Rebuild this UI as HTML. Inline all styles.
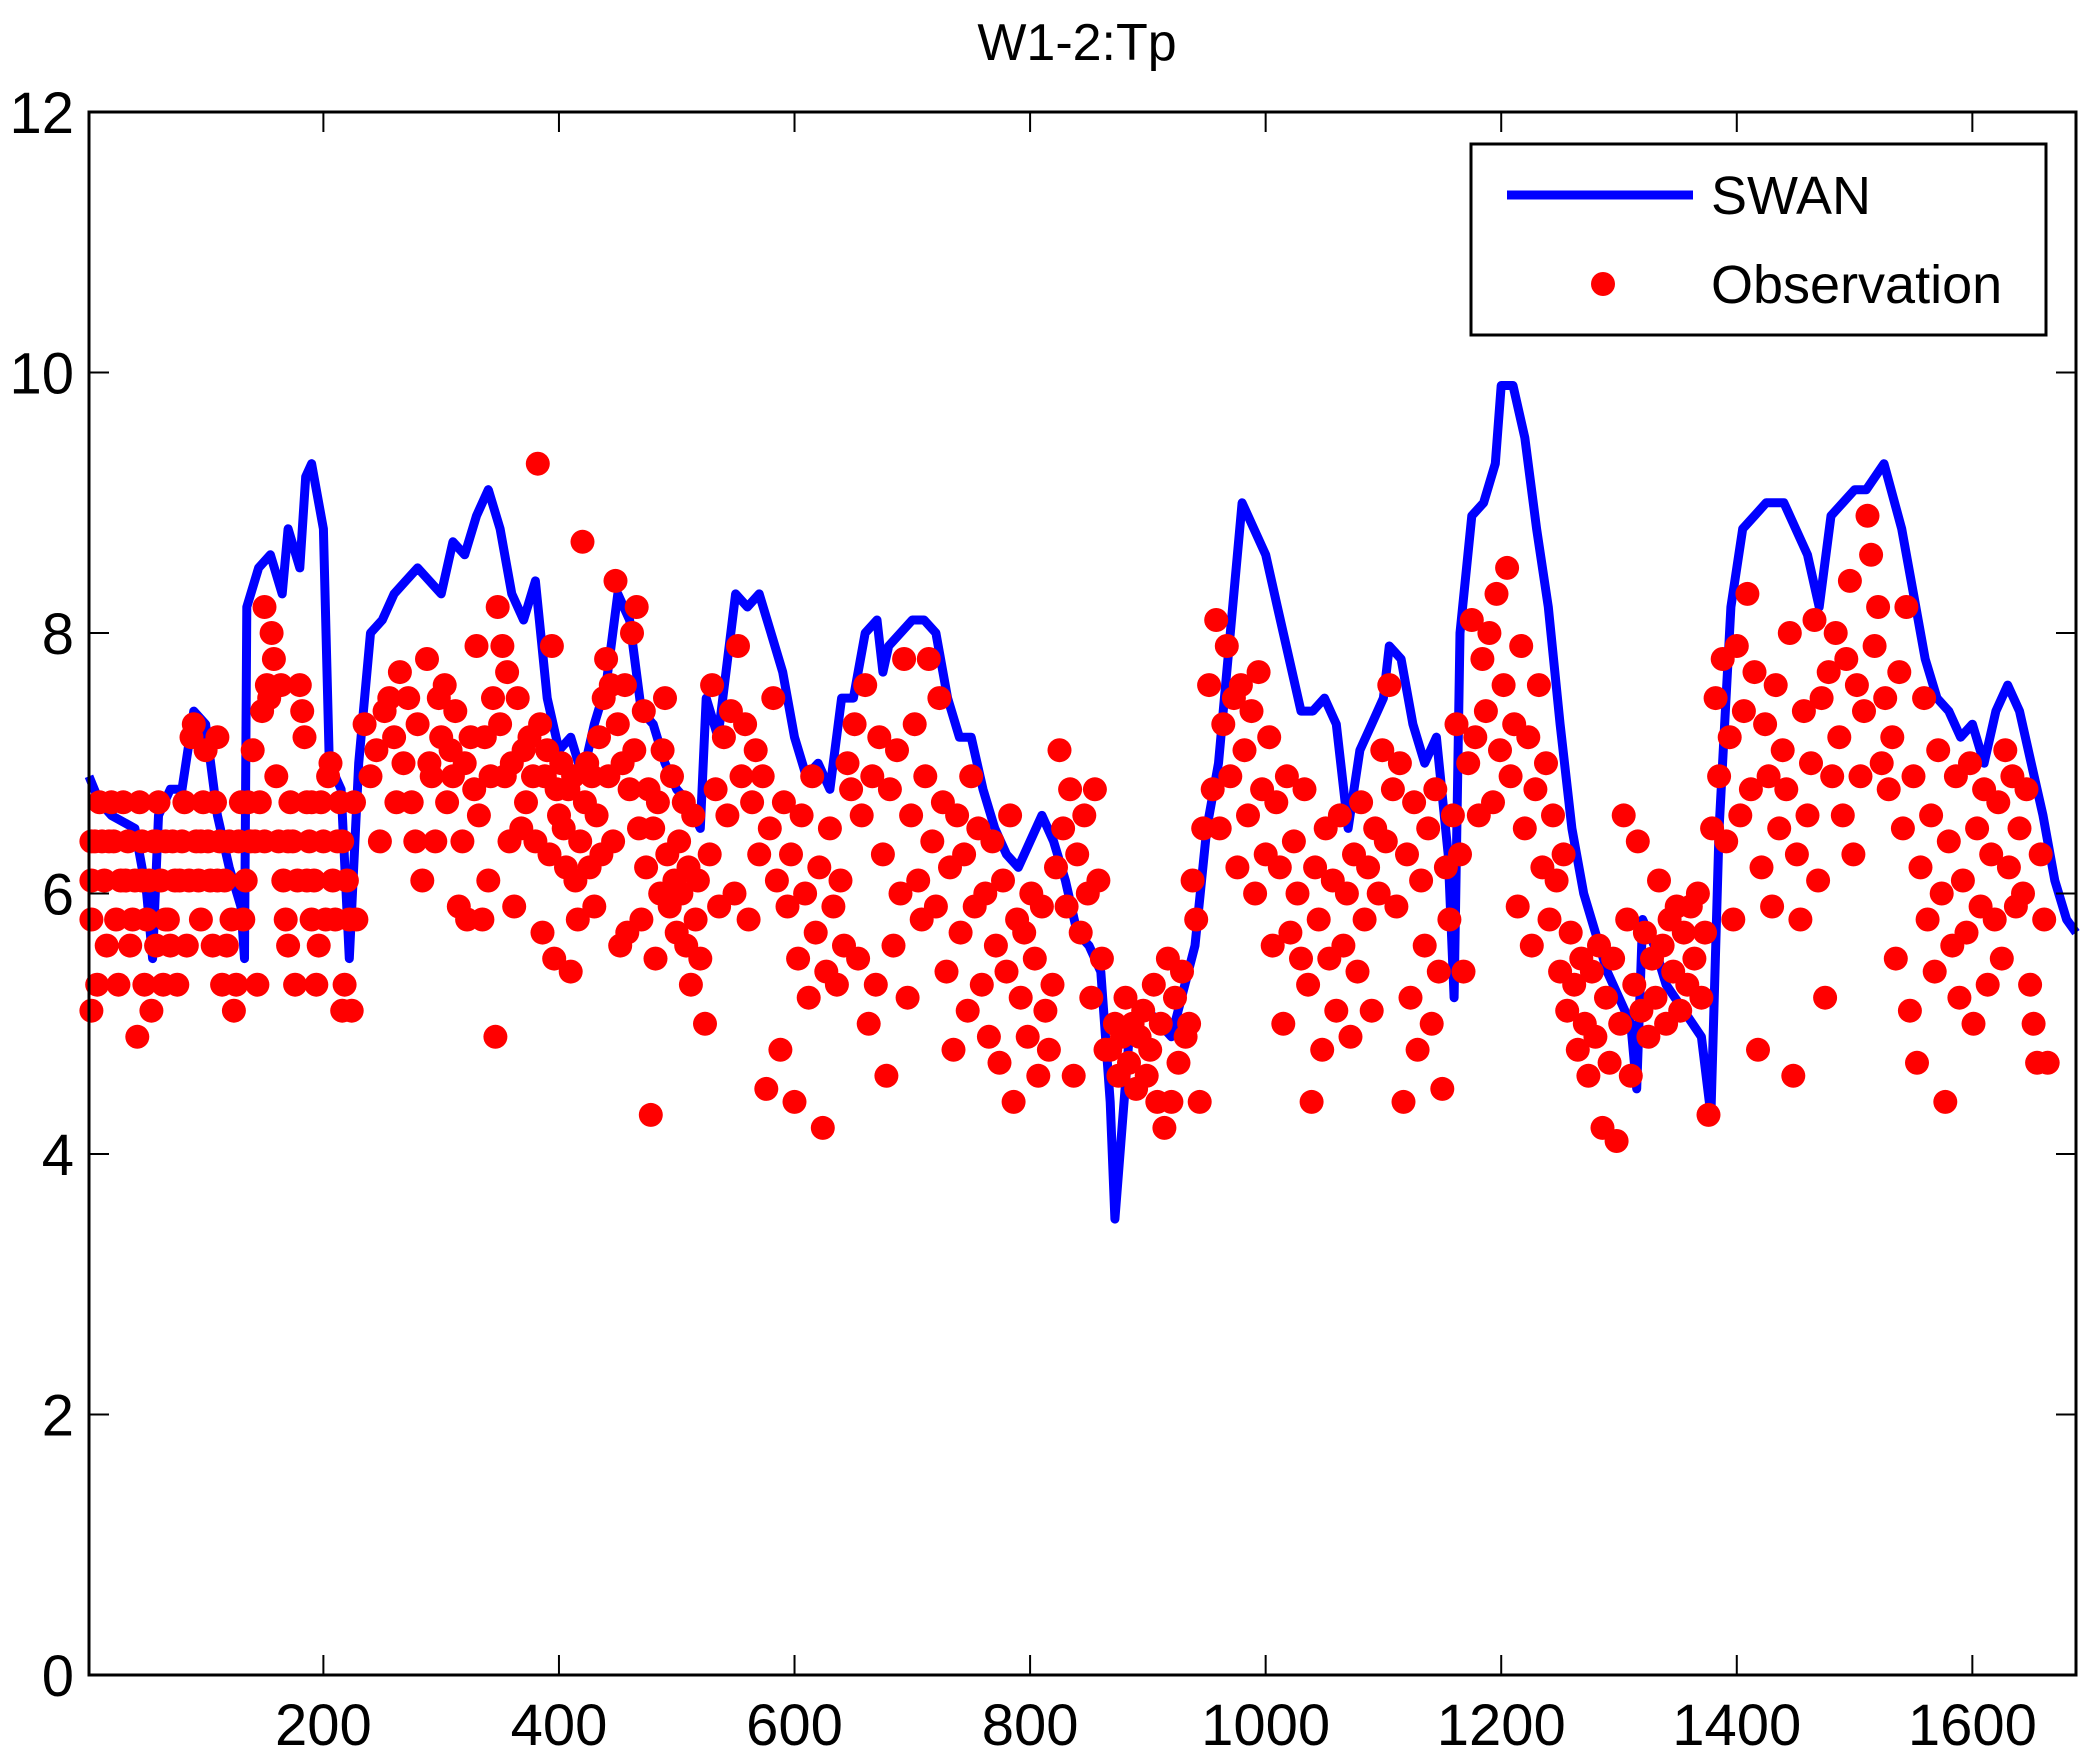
<!DOCTYPE html>
<html><head><meta charset="utf-8"><style>
html,body{margin:0;padding:0;background:#fff;}
svg{display:block;font-family:"Liberation Sans",Arial,sans-serif;}
</style></head><body>
<svg id="chart" width="2091" height="1762" viewBox="0 0 2091 1762" xmlns="http://www.w3.org/2000/svg">
<rect width="2091" height="1762" fill="#fff"/>
<text x="1077" y="60" font-size="52" text-anchor="middle">W1-2:Tp</text>
<g id="plot"></g>
<g id="axes"></g>
<g>
<rect x="1471" y="144" width="575" height="191" fill="#fff" stroke="#000" stroke-width="3"/>
<line x1="1507" y1="195" x2="1693" y2="195" stroke="#0000ff" stroke-width="9"/>
<text x="1711" y="214" font-size="54">SWAN</text>
<circle cx="1603" cy="284" r="12" fill="#ff0000"/>
<text x="1711" y="303" font-size="54">Observation</text>
</g>
</svg>
<script>
const swanX=[1,10,20,40,50,55,60,70,80,90,100,110,120,130,133,135,145,155,165,170,180,185,190,200,205,215,222,230,240,250,260,270,280,290,300,310,320,330,340,350,360,370,380,390,400,410,420,430,440,450,460,470,480,490,500,510,520,525,535,550,560,570,580,590,600,610,620,630,640,650,660,670,675,680,690,700,710,720,730,740,750,760,770,780,790,800,810,820,830,840,850,860,868,872,878,885,900,920,940,950,960,970,980,990,1000,1010,1020,1030,1040,1050,1060,1070,1080,1090,1100,1105,1115,1125,1135,1145,1155,1160,1165,1175,1185,1195,1200,1210,1220,1230,1240,1250,1260,1270,1280,1290,1300,1310,1315,1320,1330,1340,1355,1370,1378,1385,1395,1405,1415,1425,1440,1450,1460,1470,1480,1490,1500,1510,1525,1540,1550,1560,1570,1580,1590,1600,1610,1620,1630,1640,1650,1660,1670,1680,1688];
const swanY=[6.9,6.7,6.6,6.5,6.0,5.5,6.6,6.8,6.8,7.4,7.3,6.6,6.2,5.9,5.5,8.2,8.5,8.6,8.3,8.8,8.5,9.2,9.3,8.8,7.0,6.8,5.5,7.0,8.0,8.1,8.3,8.4,8.5,8.4,8.3,8.7,8.6,8.9,9.1,8.8,8.3,8.1,8.4,7.5,7.1,7.2,6.9,7.3,7.6,8.3,8.1,7.4,7.3,7.0,6.8,6.7,6.5,7.5,7.2,8.3,8.2,8.3,8.0,7.7,7.2,6.9,7.0,6.8,7.5,7.5,8.0,8.1,7.7,7.9,8.0,8.1,8.1,8.0,7.5,7.2,7.2,6.8,6.5,6.3,6.2,6.4,6.6,6.4,6.1,5.7,5.6,5.4,4.4,3.5,4.2,5.0,5.1,4.9,5.6,6.5,7.0,8.0,9.0,8.8,8.6,8.2,7.8,7.4,7.4,7.5,7.3,6.5,7.1,7.3,7.5,7.9,7.8,7.3,7.0,7.2,6.3,5.2,8.0,8.9,9.0,9.3,9.9,9.9,9.5,8.8,8.2,7.3,6.5,6.0,5.7,5.4,5.2,5.0,4.5,5.8,5.6,5.3,5.1,4.9,4.3,6.5,8.2,8.8,8.9,9.0,9.0,8.8,8.6,8.2,8.9,9.0,9.1,9.1,9.3,8.8,8.3,7.8,7.5,7.4,7.2,7.3,7.0,7.4,7.6,7.4,7.0,6.6,6.1,5.8,5.7];
const obsPoints=[
[3,6.4],[3,6.1],[3,5.8],[3,5.1],[8,5.3],[10,6.7],[12,6.4],[14,6.1],[16,5.6],[20,6.7],[22,6.4],[24,5.8],[26,5.3],[28,6.1],[30,6.7],[34,6.4],[36,5.6],[38,5.8],[40,6.1],[42,4.9],[44,6.7],[46,6.4],[48,5.3],[50,5.8],[52,6.1],[54,5.1],[56,6.4],[58,5.6],[60,6.7],[62,6.1],[64,5.3],[66,6.4],[68,5.8],[70,5.6],[72,6.4],[74,6.1],[76,5.3],[80,6.4],[82,6.7],[84,5.6],[86,6.1],[88,7.2],[90,7.3],[92,6.4],[94,6.1],[96,5.8],[98,6.7],[100,7.1],[102,6.4],[104,6.1],[106,5.6],[108,6.7],[110,7.2],[112,6.4],[114,5.3],[116,6.1],[118,5.6],[120,6.4],[122,5.8],[124,5.1],[126,5.3],[128,6.4],[130,6.7],[132,5.8],[134,6.1],[136,6.7],[140,7.1],[142,6.4],[144,5.3],[146,6.7],[148,7.4],[150,8.2],[152,7.6],[154,7.5],[156,8.0],[158,7.8],[160,6.9],[162,6.4],[164,7.6],[166,6.1],[168,5.8],[170,5.6],[172,6.7],[174,6.4],[176,5.3],[178,6.1],[180,7.6],[182,7.4],[184,7.2],[186,6.7],[188,6.4],[190,5.8],[192,6.1],[194,5.3],[196,5.6],[198,6.7],[200,6.4],[202,5.8],[204,6.9],[206,7.0],[208,6.1],[210,5.8],[212,6.4],[214,6.7],[216,5.1],[218,5.3],[220,6.1],[222,5.8],[224,5.1],[226,6.7],[228,5.8],
[6,6.4],[18,6.4],[32,6.1],[46,6.1],[78,6.1],[96,6.4],[138,6.4],[170,6.4],[186,6.1],[58,6.4],[110,6.1],[190,6.7],[216,6.4],[66,5.8],[150,6.4],
[235,7.3],[240,6.9],[245,7.1],[248,6.4],[252,7.4],[256,7.5],[260,7.2],[262,6.7],[265,7.7],[268,7.0],[272,7.5],[275,6.7],[278,6.4],[280,7.3],[284,6.1],[288,7.8],[290,7.0],[292,6.9],[295,6.4],[298,7.5],[300,7.2],[303,7.6],[305,6.7],[308,7.1],[310,6.9],[312,7.4],[315,5.9],[318,6.4],[320,7.0],[322,5.8],[325,7.2],[328,6.8],[330,7.9],[332,6.6],[335,5.8],[337,7.2],[340,6.1],[342,6.9],[344,7.5],[346,4.9],[348,8.2],[350,7.3],[352,7.9],[354,6.9],[356,7.7],[358,6.4],[360,7.0],[362,5.9],[365,7.5],[368,6.5],[370,7.1],[372,6.7],[375,7.2],[378,6.9],[380,6.4],[382,9.3],[384,7.3],[386,5.7],[388,6.9],[390,7.1],[392,6.3],[394,7.9],[396,5.5],[398,6.8],[400,6.6],[402,7.0],[404,6.5],[406,6.2],[408,6.8],[410,5.4],[412,6.9],[414,6.1],[416,5.8],[418,6.4],[420,8.7],[422,6.7],[424,7.0],[426,6.2],[428,6.9],[430,5.9],[432,6.6],[434,7.2],[436,6.3],[438,7.5],[440,7.8],[442,6.9],[444,7.6],[446,6.4],[448,8.4],[450,7.3],[452,5.6],[454,7.0],[456,7.6],[458,5.7],[460,6.8],[462,8.0],[464,7.1],[466,8.2],[468,6.5],[470,5.8],[472,7.4],[474,6.2],[476,6.8],[478,4.3],[480,6.5],[482,5.5],[484,6.7],[486,6.0],[488,7.1],[490,7.5],[492,6.3],[494,5.9],[496,6.9],[498,6.1],[500,5.7],[502,6.4],[504,6.0],[506,6.7],[508,5.6],[510,6.2],[512,5.3],[514,6.6],[516,5.8],[518,6.1],[520,5.5],
[524,5.0],[528,6.3],[530,7.6],[533,6.8],[536,5.9],[540,7.2],[543,6.6],[546,7.4],[549,6.0],[552,7.9],[555,6.9],[558,7.3],[561,5.8],[564,6.7],[567,7.1],[570,6.3],[573,6.9],[576,4.5],[579,6.5],[582,7.5],[585,6.1],[588,4.8],[591,6.7],[594,5.9],[597,6.3],[600,4.4],[603,5.5],[606,6.6],[609,6.0],[612,5.2],[615,6.9],[618,5.7],[621,6.2],[624,4.2],[627,5.4],[630,6.5],[633,5.9],[636,5.3],[639,6.1],[642,5.6],[645,7.0],[648,6.8],[651,7.3],[654,5.5],[657,6.6],[660,7.6],[663,5.0],[666,6.9],[669,5.3],[672,7.2],[675,6.3],[678,4.6],[681,6.8],[684,5.6],[687,7.1],[690,6.0],[693,7.8],[696,5.2],[699,6.6],[702,7.3],[705,6.1],[708,5.8],[711,6.9],[714,7.8],[717,6.4],[720,5.9],[723,7.5],[726,6.7],[729,5.4],[732,6.2],[735,4.8],[738,6.6],[741,5.7],[744,6.3],[747,5.1],[750,6.9],[753,5.9],[756,6.5],[759,5.3],[762,6.0],[765,4.9],[768,6.4],[771,5.6],[774,4.7],[777,6.1],[780,5.4],[783,6.6],[786,4.4],[789,5.8],[792,5.2],[795,5.7],[798,4.9],[801,6.0],[804,5.5],[807,4.6],[810,5.9],[813,5.1],[816,4.8],[819,5.3],[822,6.2],[825,7.1],[828,6.5],[831,5.9],[834,6.8],[837,4.6],[840,6.3],[843,5.7],[846,6.6],[849,6.0],[852,5.2],[855,6.8],[858,6.1],[861,5.5],[864,4.8],
[868,4.8],[872,5.0],[875,4.6],[878,4.9],[881,5.2],[884,4.7],[887,5.0],[890,4.5],[893,4.9],[896,5.1],[899,4.6],[902,4.8],[905,5.3],[908,4.4],[911,5.0],[914,4.2],[917,5.5],[920,4.4],[923,5.2],[926,4.7],[929,5.4],[932,4.9],[935,5.0],[938,6.1],[941,5.8],[944,4.4],[947,6.5],
[952,7.6],[955,6.8],[958,8.1],[961,6.5],[964,7.3],[967,7.9],[970,6.9],[973,7.5],[976,6.2],[979,7.6],[982,7.1],[985,6.6],[988,7.4],[991,6.0],[994,7.7],[997,6.8],[1000,6.3],[1003,7.2],[1006,5.6],[1009,6.7],[1012,6.2],[1015,5.0],[1018,6.9],[1021,5.7],[1024,6.4],[1027,6.0],[1030,5.5],[1033,6.8],[1036,5.3],[1039,4.4],[1042,6.2],[1045,5.8],[1048,4.8],[1051,6.5],[1054,5.5],[1057,6.1],[1060,5.1],[1063,6.6],[1066,5.6],[1069,6.0],[1072,4.9],[1075,6.3],[1078,5.4],[1081,6.7],[1084,5.8],[1087,6.2],[1090,5.1],[1093,6.5],[1096,6.0],[1099,7.1],[1102,6.4],[1105,7.6],[1108,6.8],[1111,5.9],[1114,7.0],[1117,4.4],[1120,6.3],[1123,5.2],[1126,6.7],[1129,4.8],[1132,6.1],[1135,5.6],[1138,6.5],[1141,5.0],[1144,6.8],[1147,5.4],[1150,4.5],[1153,6.2],[1156,5.8],[1159,6.6],[1162,7.3],[1165,6.3],[1168,5.4],
[1172,7.0],[1175,8.1],[1178,7.2],[1181,6.6],[1184,7.8],[1187,7.4],[1190,8.0],[1193,6.7],[1196,8.3],[1199,7.1],[1202,7.6],[1205,8.5],[1208,6.9],[1211,7.3],[1214,5.9],[1217,7.9],[1220,6.5],[1223,7.2],[1226,5.6],[1229,6.8],[1232,7.6],[1235,6.2],[1238,7.0],[1241,5.8],[1244,6.6],[1247,6.1],[1250,5.4],[1253,6.3],[1256,5.1],[1259,5.7],
[1262,5.3],[1265,4.8],[1268,5.5],[1271,5.0],[1274,4.6],[1277,5.4],[1280,4.9],[1283,5.6],[1286,4.2],[1289,5.2],[1292,4.7],[1295,5.5],[1298,4.1],[1301,5.0],[1304,6.6],[1307,5.8],[1310,4.6],[1313,5.3],[1316,6.4],[1319,5.1],[1322,5.7],[1325,4.9],[1328,5.5],[1331,5.2],[1334,6.1],[1337,5.6],[1340,5.0],[1343,5.8],[1346,5.4],[1349,5.9],[1352,5.1],[1355,5.7],[1358,5.3],[1361,5.9],[1364,5.5],[1367,6.0],[1370,5.2],[1373,5.7],[1376,4.3],[1379,6.5],
[1382,7.5],[1385,6.9],[1388,7.8],[1391,6.4],[1394,7.2],[1397,5.8],[1400,7.9],[1403,6.6],[1406,7.4],[1409,8.3],[1412,6.8],[1415,7.7],[1418,4.8],[1421,6.2],[1424,7.3],[1427,6.9],[1430,5.9],[1433,7.6],[1436,6.5],[1439,7.1],[1442,6.8],[1445,8.0],[1448,4.6],[1451,6.3],[1454,5.8],[1457,7.4],[1460,6.6],[1463,7.0],[1466,8.1],[1469,6.1],[1472,7.5],[1475,5.2],[1478,7.7],[1481,6.9],[1484,8.0],[1487,7.2],[1490,6.6],[1493,7.8],[1496,8.4],[1499,6.3],[1502,7.6],[1505,6.9],[1508,7.4],[1511,8.9],[1514,8.6],[1517,7.9],[1520,8.2],[1523,7.0],[1526,7.5],[1529,6.8],[1532,7.2],[1535,5.5],[1538,7.7],[1541,6.5],[1544,8.2],[1547,5.1],[1550,6.9],[1553,4.7],[1556,6.2],[1559,7.5],[1562,5.8],[1565,6.6],[1568,5.4],[1571,7.1],[1574,6.0],[1577,4.4],[1580,6.4],[1583,5.6],[1586,6.9],[1589,5.2],[1592,6.1],[1595,5.7],[1598,7.0],[1601,5.0],[1604,6.5],[1607,5.9],[1610,6.8],[1613,5.3],[1616,6.3],[1619,5.8],[1622,6.7],[1625,5.5],[1628,7.1],[1631,6.2],[1634,6.9],[1637,5.9],[1640,6.5],[1643,6.0],[1646,6.8],[1649,5.3],[1652,5.0],[1655,4.7],[1658,6.3],[1661,5.8],[1664,4.7]
];
const xTicks=[200,400,600,800,1000,1200,1400,1600];
const yTicks=[0,2,4,6,8,10,12];

const L=89,R=2076,T=112,B=1675,XMIN=1,XMAX=1688,YMIN=0,YMAX=12;
const NS="http://www.w3.org/2000/svg";
function sx(v){return L+(v-XMIN)/(XMAX-XMIN)*(R-L);}
function sy(v){return B-(v-YMIN)/(YMAX-YMIN)*(B-T);}
function mk(tag,attrs,parent){const e=document.createElementNS(NS,tag);for(const k in attrs)e.setAttribute(k,attrs[k]);parent.appendChild(e);return e;}
const plot=document.getElementById('plot');
const axes=document.getElementById('axes');

let d='';
for(let i=0;i<swanX.length;i++){d+=(i?'L':'M')+sx(swanX[i]).toFixed(1)+' '+sy(swanY[i]).toFixed(1);}
const line=mk('path',{d:d,fill:'none',stroke:'#0000ff','stroke-width':9,'stroke-linejoin':'round'},plot);



for(const p of obsPoints){
  const c=mk('circle',{cx:sx(p[0]).toFixed(1),cy:sy(p[1]).toFixed(1),r:12,fill:'#ff0000'},plot);
  
  
}

const frame=mk('rect',{x:L,y:T,width:R-L,height:B-T,fill:'none',stroke:'#000','stroke-width':3},axes);



for(const t of xTicks){
  const x=sx(t);
  mk('line',{x1:x,y1:B,x2:x,y2:B-20,stroke:'#000','stroke-width':2},axes);
  mk('line',{x1:x,y1:T,x2:x,y2:T+20,stroke:'#000','stroke-width':2},axes);
  const tx=mk('text',{x:x,y:1745,'font-size':58,'text-anchor':'middle'},axes);
  tx.textContent=t;
  
  
}
for(const t of yTicks){
  const y=sy(t);
  mk('line',{x1:L,y1:y,x2:L+20,y2:y,stroke:'#000','stroke-width':2},axes);
  mk('line',{x1:R,y1:y,x2:R-20,y2:y,stroke:'#000','stroke-width':2},axes);
  const tx=mk('text',{x:74,y:y+21,'font-size':58,'text-anchor':'end'},axes);
  tx.textContent=t;
  
  
}
</script>
</body></html>
